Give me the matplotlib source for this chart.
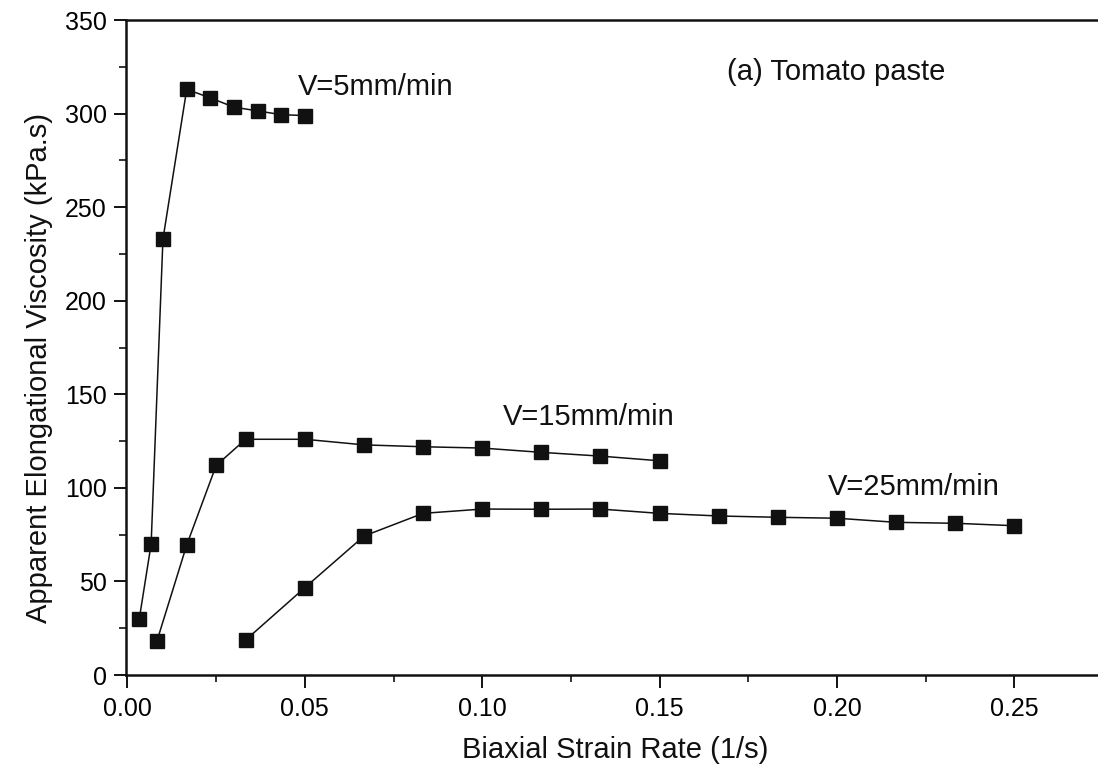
import numpy as np
import matplotlib
matplotlib.use("Agg")
import matplotlib.pyplot as plt
from matplotlib.ticker import MultipleLocator, FormatStrFormatter

plt.rcParams['font.family'] = ['Liberation Sans', 'DejaVu Sans']

# biaxial strain rate (1/s) and apparent elongational viscosity (kPa.s)
rate_v5 = [0.00333, 0.00667, 0.01, 0.0167, 0.0233, 0.03, 0.0367, 0.0433, 0.05]
visc_v5 = [30, 70, 233, 313, 308.5, 303.5, 301.5, 299.5, 299]

rate_v15 = [0.00833, 0.0167, 0.025, 0.0333, 0.05, 0.0667, 0.0833, 0.1,
            0.1167, 0.1333, 0.15]
visc_v15 = [18.3, 69.5, 112, 126, 126, 123, 122, 121.3, 119, 117, 114.5]

rate_v25 = [0.0333, 0.05, 0.0667, 0.0833, 0.1, 0.1167, 0.1333, 0.15,
            0.1667, 0.1833, 0.2, 0.2167, 0.2333, 0.25]
visc_v25 = [18.7, 46.7, 74.3, 86.4, 88.7, 88.6, 88.7, 86.4, 85, 84.3,
            83.8, 81.6, 81.1, 79.8]

labels = ["V=5mm/min", "V=15mm/min", "V=25mm/min"]

fig = plt.figure(figsize=(10.98, 7.75), dpi=100)
ax = fig.add_axes([0.1148, 0.129, 0.906, 0.845])

for xs, ys in [(rate_v5, visc_v5), (rate_v15, visc_v15), (rate_v25, visc_v25)]:
    ax.plot(xs, ys, color='#111111', lw=1.1, marker='s', ms=9.5,
            mfc='#111111', mec='#111111')

ax.set_xlim(-0.0004, 0.28)
ax.set_ylim(0, 350)

ax.xaxis.set_major_locator(MultipleLocator(0.05))
ax.xaxis.set_minor_locator(MultipleLocator(0.025))
ax.xaxis.set_major_formatter(FormatStrFormatter('%.2f'))
ax.yaxis.set_major_locator(MultipleLocator(50))
ax.yaxis.set_minor_locator(MultipleLocator(25))

ax.tick_params(which='major', direction='out', length=9, width=1.4,
               labelsize=18, color='#111111')
ax.tick_params(which='minor', direction='out', length=5, width=1.2,
               color='#111111')
ax.tick_params(axis='x', which='major', pad=7)
ax.tick_params(axis='y', which='major', pad=5)

for s in ax.spines.values():
    s.set_linewidth(1.8)
    s.set_color('#111111')

ax.set_xlabel("Biaxial Strain Rate (1/s)", fontsize=21, color='#111111')
ax.set_ylabel("Apparent Elongational Viscosity (kPa.s)", fontsize=21,
              color='#111111')
ax.xaxis.set_label_coords(0.4916, -0.093)
ax.yaxis.set_label_coords(-0.073, 0.469)

ax.text(0.048, 310, labels[0], fontsize=21, va='baseline', color='#111111')
ax.text(0.1058, 133.6, labels[1], fontsize=21, va='baseline', color='#111111')
ax.text(0.1973, 96.2, labels[2], fontsize=21, va='baseline', color='#111111')
ax.text(0.169, 318, "(a) Tomato paste", fontsize=21, va='baseline',
        color='#111111')

fig.savefig("out.png", dpi=100)
